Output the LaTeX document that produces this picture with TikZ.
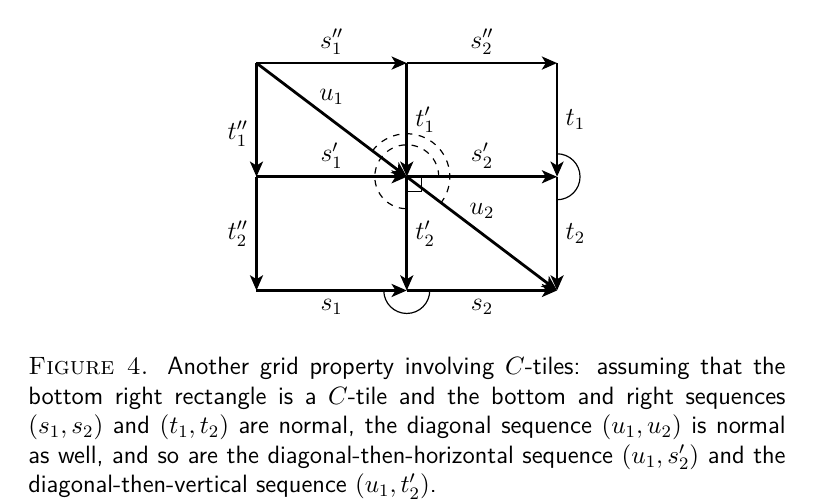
\RequirePackage{fix-cm}
\documentclass[tikz,border=0pt]{standalone}
\usepackage{amsmath,amssymb}
\usepackage{tikz}
\usetikzlibrary{arrows.meta, positioning}

\begin{document}
\begin{tikzpicture}[
    arrow/.style = {line width=1.3pt, -{Stealth[length=7pt, width=6pt, inset=1.8pt]}},
    lbl/.style = {font=\fontsize{12}{14}\selectfont},
    normal/.style = {line width=0.55pt},
    alt/.style = {line width=0.55pt, dashed},
    caption/.style = {anchor=north west, inner sep=0pt, text width=12.32cm, align=justify,
                      font=\fontsize{11.6}{13.66}\selectfont\sffamily}
]
\useasboundingbox (-4.173,-3.425) rectangle (9.054,4.726);

% grid vertices
\coordinate (g) at (0,0);
\coordinate (h) at (2.445,0);
\coordinate (i) at (4.89,0);
\coordinate (d) at (0,1.85);
\coordinate (e) at (2.445,1.85);
\coordinate (f) at (4.89,1.85);
\coordinate (a) at (0,3.7);
\coordinate (b) at (2.445,3.7);
\coordinate (c) at (4.89,3.7);

% horizontal sequences
\draw [arrow] (a) -- node[lbl, above] (ls1pp) {$s''_1$} (b);
\draw [arrow] (b) -- node[lbl, above] (ls2pp) {$s''_2$} (c);
\draw [arrow] (d) -- node[lbl, above] (ls1p) {$s'_1$} (e);
\draw [arrow] (e) -- node[lbl, above] (ls2p) {$s'_2$} (f);
\draw [arrow] (g) -- node[lbl, below] (ls1) {$s_1$} (h);
\draw [arrow] (h) -- node[lbl, below] (ls2) {$s_2$} (i);

% vertical sequences
\draw [arrow] (a) -- node[lbl, left, pos=0.62] (lt1pp) {$t''_1$} (d);
\draw [arrow] (d) -- node[lbl, left] (lt2pp) {$t''_2$} (g);
\draw [arrow] (b) -- node[lbl, right] (lt1p) {$t'_1$} (e);
\draw [arrow] (e) -- node[lbl, right] (lt2p) {$t'_2$} (h);
\draw [arrow] (c) -- node[lbl, right] (lt1) {$t_1$} (f);
\draw [arrow] (f) -- node[lbl, right] (lt2) {$t_2$} (i);

% diagonals
\draw [arrow] (a) -- node[lbl, above=3pt] (lu1) {$u_1$} (e);
\draw [arrow] (e) -- node[lbl, above=3pt] (lu2) {$u_2$} (i);

% normality marks
\draw [normal] (f) ++(0,0.374) arc[start angle=90, end angle=-90, radius=0.374cm];
\draw [normal] (h) ++(-0.374,0) arc[start angle=180, end angle=360, radius=0.374cm];
\draw [alt] (e) ++(0.52,0) arc[start angle=0, end angle=270, radius=0.52cm];
\draw [alt] (e) ++(143:0.70) arc[start angle=143, end angle=-37, radius=0.70cm];
\draw [normal] (e) rectangle ++(0.244,-0.244);

\node (cap) [caption] at (-3.718,-1.082) {{\rmfamily\textsc{Figure 4.}} Another grid property involving $C$-tiles: assuming that the\linebreak
bottom right rectangle is a $C$-tile and the bottom and right sequences\linebreak
$(s_1,s_2)$ and $(t_1,t_2)$ are normal, the diagonal sequence $(u_1,u_2)$ is normal\linebreak
as well, and so are the diagonal-then-horizontal sequence $(u_1,s'_2)$ and the\linebreak
diagonal-then-vertical sequence $(u_1,t'_2)$.};

\end{tikzpicture}
\end{document}
